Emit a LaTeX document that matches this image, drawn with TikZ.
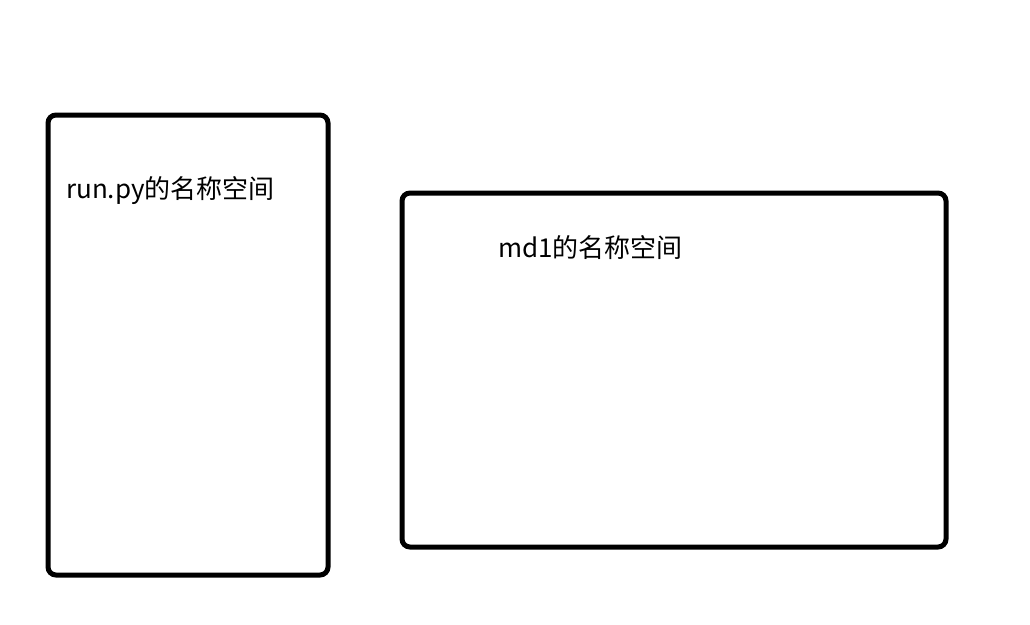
\documentclass[tikz,border=0pt]{standalone}
\usepackage{fontspec}
\setmainfont{Noto Sans CJK SC}
\begin{document}
\begin{tikzpicture}[x=1pt,y=-1pt,
  frame/.style={draw=black,line width=5pt,rounded corners=8pt},
  lbl/.style={anchor=base west,inner sep=0pt,font=\fontsize{26}{30}\selectfont}]
\useasboundingbox (0,0) rectangle (1030,624);
\draw[frame] (48,115) rectangle (328,575);
\draw[frame] (402,193) rectangle (946,547);
\node[lbl] (t1) at (66,198) {run.py的名称空间};
\node[lbl] (t2) at (498,257) {md1的名称空间};
\end{tikzpicture}
\end{document}
